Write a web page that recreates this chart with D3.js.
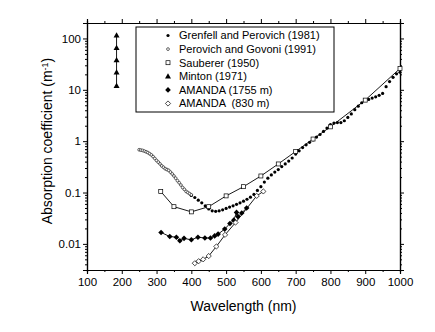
<!DOCTYPE html>
<html>
<head>
<meta charset="utf-8">
<script src="https://cdn.jsdelivr.net/npm/d3@7"></script>
<style>
  body { margin: 0; background: #fff; }
  svg text { font-family: "Liberation Sans", Arial, sans-serif; fill: #000; }
</style>
</head>
<body>
<div id="chart"></div>
<script>
// [wavelength (nm), absorption coefficient (1/m)]
const grenfell = [
  [400, 0.088], [410, 0.080], [420, 0.071], [430, 0.063], [440, 0.055], [450, 0.048],
  [460, 0.044], [470, 0.043], [480, 0.044], [490, 0.046], [500, 0.049], [510, 0.052],
  [520, 0.055], [530, 0.059], [540, 0.063], [550, 0.068], [560, 0.074], [570, 0.081],
  [580, 0.092], [590, 0.11], [600, 0.13], [610, 0.16], [620, 0.19], [630, 0.22],
  [640, 0.25], [650, 0.28], [660, 0.32], [670, 0.36], [680, 0.41], [690, 0.47],
  [700, 0.56], [710, 0.65], [720, 0.75], [730, 0.85], [740, 0.95], [750, 1.06],
  [760, 1.2], [770, 1.35], [780, 1.55], [790, 1.8], [800, 2.1], [810, 2.25],
  [820, 2.3], [830, 2.3], [840, 2.5], [850, 2.9], [860, 3.4], [870, 4.1],
  [880, 4.8], [890, 5.6], [900, 6.2], [910, 6.5], [920, 6.9], [930, 7.3],
  [940, 7.8], [950, 8.5], [960, 11.5], [970, 14.5], [980, 17.5], [990, 20.5], [1000, 22]
];
const perovichGovoni = [
  [250, 0.68], [255, 0.67], [260, 0.66], [265, 0.64], [270, 0.62], [275, 0.60],
  [280, 0.57], [285, 0.54], [290, 0.50], [295, 0.46], [300, 0.42], [305, 0.39],
  [310, 0.36], [315, 0.33], [320, 0.31], [325, 0.29], [330, 0.28], [335, 0.27],
  [340, 0.25], [345, 0.23], [350, 0.21], [355, 0.19], [360, 0.17], [365, 0.155],
  [370, 0.14], [375, 0.125], [380, 0.115], [385, 0.105], [390, 0.10], [395, 0.095], [400, 0.09]
];
const sauberer = [
  [312, 0.105], [350, 0.053], [400, 0.042], [450, 0.053], [500, 0.086], [550, 0.13],
  [600, 0.21], [650, 0.36], [700, 0.63], [750, 1.1], [800, 1.9], [900, 6.3], [1000, 26]
];
const minton = [[185, 12], [185, 22], [185, 38], [185, 66], [185, 115]];
const amanda1755 = [
  [313, 0.0167], [338, 0.0139], [357, 0.0135], [367, 0.0115], [379, 0.0128], [400, 0.012],
  [419, 0.0135], [439, 0.013], [455, 0.013], [467, 0.0143], [477, 0.0155], [496, 0.0194],
  [511, 0.025], [522, 0.029], [530, 0.041], [534, 0.034], [545, 0.040], [559, 0.05]
];
const amanda830 = [
  [410, 0.0042], [421, 0.0046], [434, 0.005], [450, 0.0058], [472, 0.0089],
  [497, 0.015], [527, 0.026], [588, 0.086], [607, 0.105]
];

const xTicks = d3.range(100, 1001, 100);
const xMinor = d3.range(150, 1000, 100);
const yTicks = [0.01, 0.1, 1, 10, 100];
const yLabels = ['0.01', '0.1', '1', '10', '100'];

const series = [
  { name: 'Grenfell and Perovich (1981)', data: grenfell, mark: 'dot', line: false },
  { name: 'Perovich and Govoni (1991)', data: perovichGovoni, mark: 'circle', line: false },
  { name: 'Sauberer (1950)', data: sauberer, mark: 'square', line: true },
  { name: 'Minton (1971)', data: minton, mark: 'triangle', line: true },
  { name: 'AMANDA (1755 m)', data: amanda1755, mark: 'diamondFill', line: true },
  { name: 'AMANDA  (830 m)', data: amanda830, mark: 'diamondOpen', line: true }
];

const margin = { top: 23, right: 35, bottom: 62, left: 87 };
const width = 435 - margin.left - margin.right;
const height = 332 - margin.top - margin.bottom;

const svg = d3.select('#chart').append('svg')
  .attr('width', 435).attr('height', 332);
const g = svg.append('g').attr('transform', `translate(${margin.left},${margin.top})`);

const x = d3.scaleLinear().domain([100, 1000]).range([0, width]);
const y = d3.scaleLog().domain([0.0031, 200]).range([height, 0]);

// minor ticks for the log axis: 2..9 of each decade
const yMinor = [];
[0.001, 0.01, 0.1, 1, 10, 100].forEach((dec) => {
  for (let k = 2; k <= 9; k++) {
    const v = dec * k;
    if (v > y.domain()[0] && v < y.domain()[1]) yMinor.push(v);
  }
});

function styleAxis(sel) {
  sel.selectAll('path.domain').attr('stroke', '#000').attr('stroke-width', 1.2);
  sel.selectAll('line').attr('stroke', '#000').attr('stroke-width', 1);
  sel.selectAll('text').style('font-size', '11.5px');
}

// bottom / top
g.append('g').attr('transform', `translate(0,${height})`)
  .call(d3.axisBottom(x).tickValues(xTicks).tickSize(4).tickPadding(4).tickFormat(d3.format('d')))
  .call(styleAxis);
g.append('g').attr('transform', `translate(0,${height})`)
  .call(d3.axisBottom(x).tickValues(xMinor).tickSize(2).tickFormat(''))
  .call(styleAxis);
g.append('g')
  .call(d3.axisTop(x).tickValues(xTicks).tickSize(4).tickFormat(''))
  .call(styleAxis);
g.append('g')
  .call(d3.axisTop(x).tickValues(xMinor).tickSize(2).tickFormat(''))
  .call(styleAxis);

// left / right
g.append('g')
  .call(d3.axisLeft(y).tickValues(yTicks).tickSize(4).tickPadding(2)
    .tickFormat((d, i) => yLabels[i]))
  .call(styleAxis);
g.append('g')
  .call(d3.axisLeft(y).tickValues(yMinor).tickSize(2).tickFormat(''))
  .call(styleAxis);
g.append('g').attr('transform', `translate(${width},0)`)
  .call(d3.axisRight(y).tickValues(yTicks).tickSize(4).tickFormat(''))
  .call(styleAxis);
g.append('g').attr('transform', `translate(${width},0)`)
  .call(d3.axisRight(y).tickValues(yMinor).tickSize(2).tickFormat(''))
  .call(styleAxis);

// axis titles
svg.append('text')
  .attr('x', margin.left + width / 2).attr('y', 311)
  .attr('text-anchor', 'middle').style('font-size', '14px')
  .text('Wavelength (nm)');

const yTitle = svg.append('text')
  .attr('transform', 'translate(52,141) rotate(-90)')
  .attr('text-anchor', 'middle').style('font-size', '14px');
yTitle.append('tspan').text('Absorption coefficient (m');
yTitle.append('tspan').attr('dy', '-0.5em').style('font-size', '9px').text('-1');
yTitle.append('tspan').attr('dy', '0.35em').text(')');

// marker shapes
function drawMark(sel, kind) {
  if (kind === 'dot') {
    sel.append('circle').attr('r', 1.6).attr('fill', '#000');
  } else if (kind === 'circle') {
    sel.append('circle').attr('r', 1.4).attr('fill', '#fff').attr('stroke', '#000').attr('stroke-width', 0.6);
  } else if (kind === 'square') {
    sel.append('rect').attr('x', -2).attr('y', -2).attr('width', 4).attr('height', 4)
      .attr('fill', '#fff').attr('stroke', '#000').attr('stroke-width', 0.7);
  } else if (kind === 'triangle') {
    sel.append('path').attr('d', 'M0,-3L3,2.2L-3,2.2Z').attr('fill', '#000');
  } else if (kind === 'diamondFill') {
    sel.append('path').attr('d', 'M0,-2.8L2.8,0L0,2.8L-2.8,0Z').attr('fill', '#000');
  } else if (kind === 'diamondOpen') {
    sel.append('path').attr('d', 'M0,-2.6L2.6,0L0,2.6L-2.6,0Z')
      .attr('fill', '#fff').attr('stroke', '#000').attr('stroke-width', 0.7);
  }
}

const line = d3.line()
  .x((d) => x(d[0]))
  .y((d) => y(d[1]));

const plot = g.append('g');

// connecting lines
plot.selectAll('path.series')
  .data(series.filter((s) => s.line))
  .enter()
  .append('path')
  .attr('class', 'series')
  .attr('d', (d) => line(d.data))
  .attr('fill', 'none')
  .attr('stroke', '#000')
  .attr('stroke-width', 0.9);

// points
series.forEach((s) => {
  plot.append('g').selectAll('g')
    .data(s.data)
    .enter()
    .append('g')
    .attr('transform', (d) => `translate(${x(d[0])},${y(d[1])})`)
    .each(function () { drawMark(d3.select(this), s.mark); });
});

// legend
const legend = svg.append('g');
legend.append('rect')
  .attr('x', 136).attr('y', 27).attr('width', 198).attr('height', 85)
  .attr('fill', '#fff').attr('stroke', '#000').attr('stroke-width', 1);

const item = legend.selectAll('g.item')
  .data(series)
  .enter()
  .append('g')
  .attr('class', 'item')
  .attr('transform', (d, i) => `translate(168,${35.5 + i * 13.6})`);
item.each(function (d) { drawMark(d3.select(this), d.mark); });
item.append('text')
  .attr('x', 11).attr('dy', '0.35em')
  .style('font-size', '11px')
  .style('white-space', 'pre')
  .text((d) => d.name);
</script>
</body>
</html>
